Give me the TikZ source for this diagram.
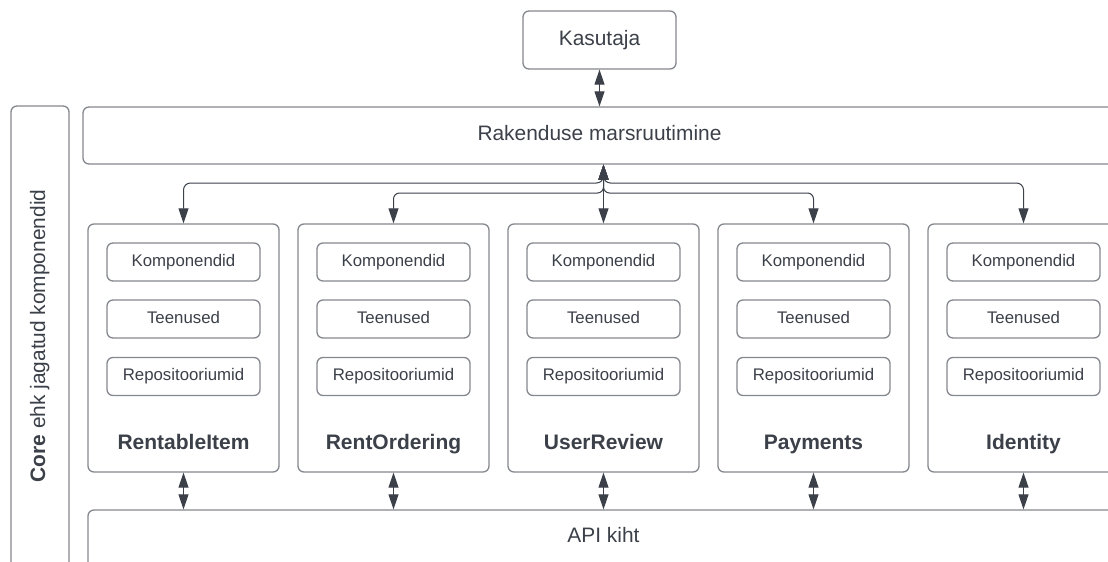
\documentclass[tikz,border=0pt]{standalone}
\usepackage{fontspec}
\setmainfont{Liberation Sans}
\usetikzlibrary{arrows.meta,calc}
\definecolor{txt}{HTML}{3B4049}
\definecolor{edge}{HTML}{85888E}
\tikzset{
  box/.style={draw=edge, line width=1.3pt, rounded corners=6pt, fill=white, text=txt, inner sep=0pt},
  big/.style={font=\fontsize{20.9}{24}\selectfont, text=txt, text height=15pt, text depth=4.5pt},
  small/.style={font=\fontsize{16.8}{20}\selectfont, text=txt, text height=12pt, text depth=3.5pt},
  title/.style={font=\fontsize{21}{24}\selectfont\bfseries, text=txt, text height=15pt, text depth=4.5pt, inner sep=0pt},
  conn/.style={draw=txt, line width=1pt, {Triangle[width=10pt,length=15pt]}-{Triangle[width=10pt,length=15pt]}},
}
\begin{document}
\begin{tikzpicture}[x=1pt,y=-1pt]
\useasboundingbox (0,0) rectangle (1108,562);
\clip (0,0) rectangle (1108,562);
\fill[white] (0,0) rectangle (1108,562);

% top
\node[box, big, minimum width=153pt, minimum height=58pt] (kas) at (599.5,40) {Kasutaja};
\node[box, big, minimum width=1033pt, minimum height=57pt] (rak) at (599.5,135.5) {Rakenduse marsruutimine};
\node[box, minimum width=58pt, minimum height=494pt] (core) at (40,353) {};
\node[big, rotate=90, text height=15pt, text depth=0pt, inner sep=0pt] (corelbl) at (37.5,336) {\textbf{Core} ehk jagatud komponendid};

% modules
\foreach \i/\name in {1/RentableItem,2/RentOrdering,3/UserReview,4/Payments,5/Identity}{
  \pgfmathsetmacro{\cx}{183.5+210*(\i-1)}
  \node[box, minimum width=191pt, minimum height=248pt] (m\i) at (\cx,348) {};
  \node[box, small, minimum width=153pt, minimum height=38pt] (m\i k) at (\cx,262) {Komponendid};
  \node[box, small, minimum width=153pt, minimum height=38pt] (m\i t) at (\cx,319) {Teenused};
  \node[box, small, minimum width=153pt, minimum height=38pt] (m\i r) at (\cx,376.5) {Repositooriumid};
  \node[title, anchor=base] (m\i l) at (\cx,449.5) {\name};
}

% API layer
\node[box, minimum width=1031pt, minimum height=90pt] (api) at (603.5,555) {};
\node[big] (apilbl) at (603.5,537) {API kiht};

% connectors
\draw[conn] (kas.south) -- (rak.north);
\coordinate (hub) at (m3.north |- rak.south);
\draw[conn, rounded corners=7pt] (hub) -- (hub |- 0,183) -- (m1.north |- 0,183) -- (m1.north);
\draw[conn, rounded corners=7pt] (hub) -- (hub |- 0,183) -- (m5.north |- 0,183) -- (m5.north);
\draw[conn, rounded corners=6pt] (hub) -- (hub |- 0,193) -- (m2.north |- 0,193) -- (m2.north);
\draw[conn, rounded corners=6pt] (hub) -- (hub |- 0,193) -- (m4.north |- 0,193) -- (m4.north);
\draw[conn] (hub) -- (m3.north);
\foreach \i in {1,...,5}{
  \draw[conn] (m\i.south) -- (m\i.south |- api.north);
}
\end{tikzpicture}
\end{document}
